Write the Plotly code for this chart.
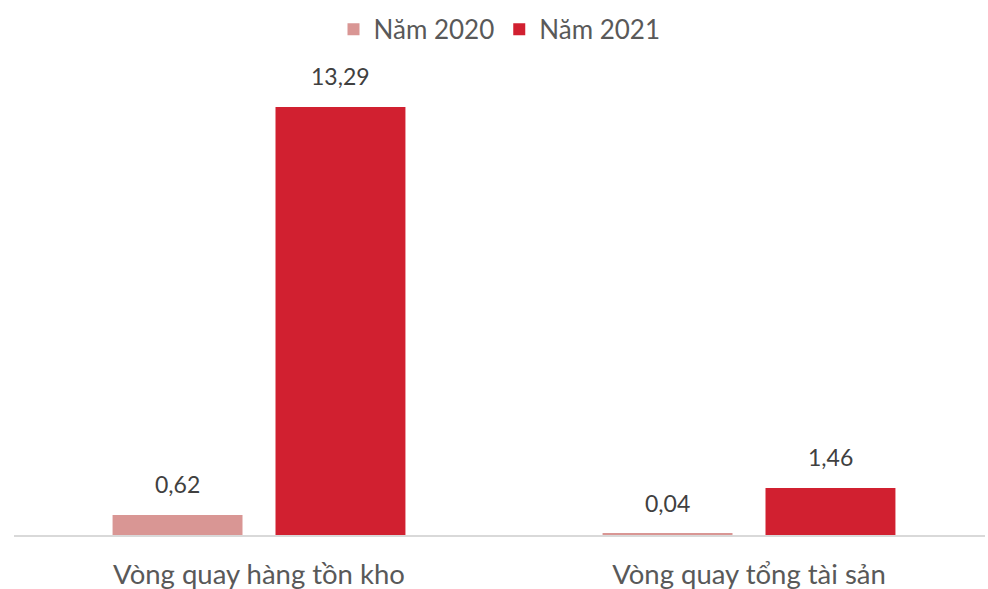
import plotly.graph_objects as go

categories = ["Vòng quay hàng tồn kho", "Vòng quay tổng tài sản"]
series_names = ["Năm 2020", "Năm 2021"]
values_2020 = [0.62, 0.04]
values_2021 = [13.29, 1.46]
colors = ["#D99694", "#D12030"]

FONT = "Lato"
BARGAP = 0.335
GROUPGAP = 0.2025

fig = go.Figure()
series = [values_2020, values_2021]
for name, vals, col in zip(series_names, series, colors):
    fig.add_trace(go.Bar(
        x=categories, y=vals, name=name, marker=dict(color=col, line=dict(width=0)),
        cliponaxis=False,
    ))

# value labels positioned from the data
slot = (1 - BARGAP) / len(series)
for si, vals in enumerate(series):
    off = -(1 - BARGAP) / 2 + slot * (si + 0.5)
    for ci, v in enumerate(vals):
        fig.add_annotation(x=ci + off, y=v, xref="x", yref="y",
                           text=f"{v:.2f}".replace(".", ","), showarrow=False,
                           yanchor="bottom", yshift=15,
                           font=dict(family=FONT, size=23, color="#404040"))

fig.update_layout(
    width=988, height=589,
    margin=dict(l=14, r=3, t=60, b=54),
    paper_bgcolor="white", plot_bgcolor="white",
    separators=",.",
    barmode="group", bargap=BARGAP, bargroupgap=GROUPGAP,
    font=dict(family=FONT, color="#595959"),
    legend=dict(orientation="h", x=0.5, xanchor="center", y=0.99, yanchor="top",
                yref="container", font=dict(family=FONT, size=26, color="#595959"),
                itemwidth=30, traceorder="normal"),
    showlegend=True,
)
fig.update_xaxes(type="category", range=[-0.5, -0.5 + 971 / 490], showline=True,
                 linecolor="#D9D9D9", linewidth=1.5, automargin=False,
                 ticks="", tickfont=dict(family=FONT, size=27.5, color="#595959"),
                 ticklabelstandoff=14, showgrid=False)
fig.update_yaxes(range=[0, 475 / 32.2], visible=False, showgrid=False, zeroline=False)

fig.write_html("out.html")
